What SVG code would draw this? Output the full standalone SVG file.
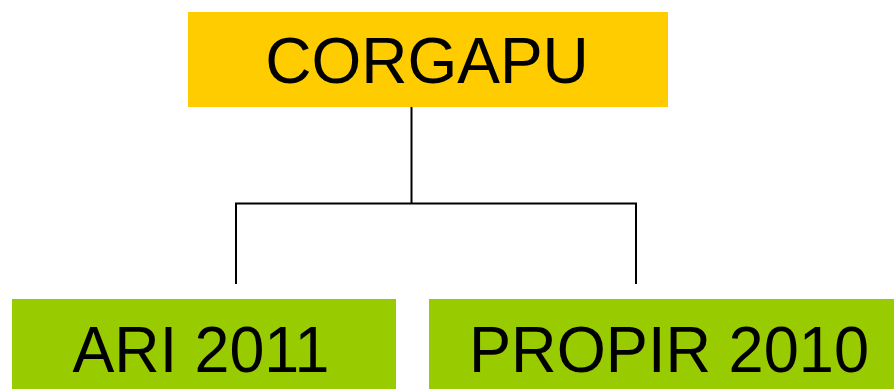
<svg xmlns="http://www.w3.org/2000/svg" width="894" height="389" viewBox="0 0 894 389">
<style>
.t{font-family:"Liberation Sans",Arial,sans-serif;font-size:64px;fill:#000;text-anchor:middle}
.c{stroke:#000;stroke-width:2;fill:none}
</style>
<rect width="894" height="389" fill="#fff"/>
<g id="connectors">
<path class="c" d="M411.5 107 V203.5 M236 284 V203.5 H636 V284"/>
</g>
<g id="corgapu">
<rect x="188" y="12" width="480" height="95" fill="#FFCC00"/>
<text class="t" x="427" y="83">CORGAPU</text>
</g>
<g id="ari">
<rect x="12" y="299" width="384" height="90" fill="#99CC00"/>
<text class="t" x="201" y="372" textLength="257" lengthAdjust="spacingAndGlyphs">ARI 2011</text>
</g>
<g id="propir">
<rect x="429" y="299" width="465" height="90" fill="#99CC00"/>
<text class="t" x="669" y="372" textLength="400" lengthAdjust="spacingAndGlyphs">PROPIR 2010</text>
</g>
</svg>
